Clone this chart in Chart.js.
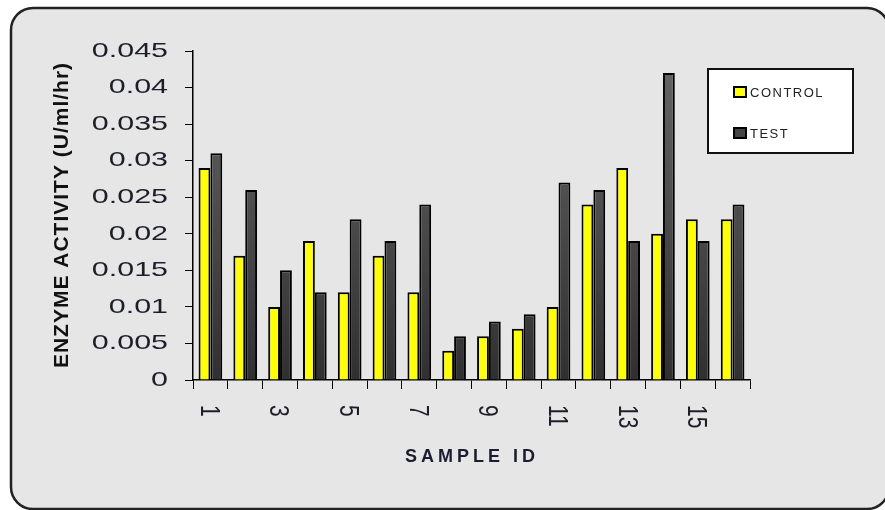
<!DOCTYPE html>
<html>
<head>
<meta charset="utf-8">
<script src="https://cdn.jsdelivr.net/npm/chart.js@4.4.0/dist/chart.umd.min.js"></script>
<style>
  html, body { margin: 0; padding: 0; background: #fff; overflow: hidden; }
  #wrap { width: 885px; height: 510px; }
</style>
</head>
<body>
<div id="wrap"><canvas id="chart" width="885" height="510"></canvas></div>
<script>
// data
const sampleIds = ["1", "2", "3", "4", "5", "6", "7", "8", "9", "10", "11", "12", "13", "14", "15", "16"];
const controlVals = [0.029, 0.017, 0.010, 0.019, 0.012, 0.017, 0.012, 0.004, 0.006, 0.007, 0.010, 0.024, 0.029, 0.020, 0.022, 0.022];
const testVals = [0.031, 0.026, 0.015, 0.012, 0.022, 0.019, 0.024, 0.006, 0.008, 0.009, 0.027, 0.026, 0.019, 0.042, 0.019, 0.024];
const yMax = 0.045;
const yStep = 0.005;

const FONT = '"Liberation Sans", Arial, sans-serif';
const INK = "#1e1e2a";

function testFill(ctx) {
  const ca = ctx.chart.chartArea;
  if (!ca) return "#555";
  const g = ctx.chart.ctx.createLinearGradient(0, ca.top, 0, ca.bottom);
  g.addColorStop(0, "#666666");
  g.addColorStop(1, "#303030");
  return g;
}

// frame, rotated tick labels, titles and legend
const decor = {
  id: "decor",
  beforeDraw(chart) {
    const c = chart.ctx;
    c.save();
    c.fillStyle = "#fff";
    c.fillRect(0, 0, chart.width, chart.height);
    c.beginPath();
    c.roundRect(11, 8, 878, 501, 22);
    c.fillStyle = "#e6e6e6";
    c.fill();
    c.lineWidth = 2.5;
    c.strokeStyle = "#222";
    c.stroke();
    c.restore();
  },
  afterDraw(chart) {
    const c = chart.ctx;
    const xs = chart.scales.x, ys = chart.scales.y;
    c.save();
    c.fillStyle = INK;

    // y tick labels
    c.font = "21px " + FONT;
    c.textAlign = "right";
    c.textBaseline = "middle";
    ys.ticks.forEach(t => {
      const y = ys.getPixelForValue(t.value);
      const txt = String(parseFloat(t.value.toFixed(3)));
      c.save();
      c.translate(168, y);
      c.scale(1.45, 1);
      c.fillText(txt, 0, 0);
      c.restore();
    });

    // x tick labels, every other one, turned clockwise
    c.textAlign = "left";
    xs.ticks.forEach((t, i) => {
      if (i % 2) return;
      const x = xs.getPixelForTick(i) - 2;
      c.save();
      c.translate(x, 405);
      c.scale(1.3, 1);
      c.rotate(Math.PI / 2);
      c.fillText(sampleIds[i], 0, 0);
      c.restore();
    });

    // axis titles
    c.fillStyle = "#111";
    c.font = "bold 21px " + FONT;
    c.textAlign = "center";
    c.letterSpacing = "1px";
    c.save();
    c.translate(62, 215);
    c.rotate(-Math.PI / 2);
    c.fillText("ENZYME ACTIVITY (U/ml/hr)", 0, 0);
    c.restore();

    c.font = "bold 18px " + FONT;
    c.letterSpacing = "4px";
    c.fillStyle = "#1c1c30";
    c.fillText("SAMPLE ID", 472, 457);

    // legend
    c.letterSpacing = "0px";
    c.fillStyle = "#fff";
    c.fillRect(708, 69, 145, 84);
    c.lineWidth = 2;
    c.strokeStyle = "#111";
    c.strokeRect(708, 69, 145, 84);
    const rows = [92, 133];
    chart.data.datasets.forEach((ds, i) => {
      const y = rows[i];
      c.fillStyle = i === 0 ? "#ffff00" : "#444";
      c.fillRect(734, y - 5, 12, 10);
      c.lineWidth = 2;
      c.strokeStyle = "#000";
      c.strokeRect(734, y - 5, 12, 10);
      c.fillStyle = "#222";
      c.font = "13px " + FONT;
      c.letterSpacing = "1.5px";
      c.textAlign = "left";
      c.textBaseline = "middle";
      c.fillText(ds.label, 750, y + 1);
    });
    c.restore();
  }
};

new Chart(document.getElementById("chart"), {
  type: "bar",
  data: {
    labels: sampleIds,
    datasets: [
      { label: "CONTROL", data: controlVals, backgroundColor: "#ffff00", borderColor: "#000", borderWidth: 2 },
      { label: "TEST", data: testVals, backgroundColor: testFill, borderColor: "#000", borderWidth: 2 }
    ]
  },
  options: {
    responsive: false,
    animation: false,
    categoryPercentage: 0.68,
    barPercentage: 1.0,
    layout: { padding: { left: 183, right: 135, top: 51, bottom: 100 } },
    plugins: { legend: { display: false }, tooltip: { enabled: false } },
    scales: {
      x: {
        offset: true,
        grid: { display: true, drawOnChartArea: false, offset: true, color: "#000", lineWidth: 1, tickLength: 9 },
        border: { color: "#000", width: 1.5 },
        ticks: { display: false },
        afterFit: s => { s.height = 30; }
      },
      y: {
        min: 0,
        max: yMax,
        ticks: { display: false, stepSize: yStep },
        grid: { drawOnChartArea: false, color: "#000", lineWidth: 1, tickLength: 8 },
        border: { color: "#000", width: 1.5 },
        afterFit: s => { s.width = 10; }
      }
    }
  },
  plugins: [decor]
});
</script>
</body>
</html>
